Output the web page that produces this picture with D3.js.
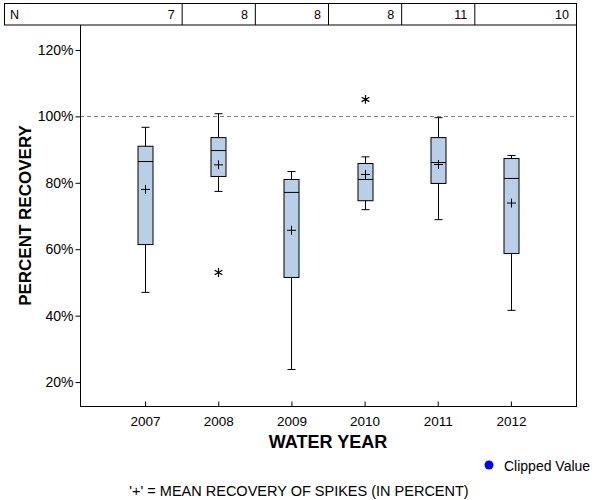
<!DOCTYPE html>
<html><head><meta charset="utf-8">
<script src="https://cdn.jsdelivr.net/npm/d3@7"></script>
<style>body{margin:0;background:#fff;} text{font-family:"Liberation Sans",Arial,sans-serif;}</style>
</head><body><svg id="c" width="600" height="500"></svg>
<script>
const years = ["2007","2008","2009","2010","2011","2012"];
const counts = [7, 8, 8, 8, 11, 10];
const whiskerLow  = [47.0, 77.4, 23.8, 71.9, 68.9, 41.6];
const q1          = [61.4, 81.9, 51.5, 74.6, 79.8, 58.7];
const median      = [86.4, 89.7, 77.1, 81.0, 86.1, 81.3];
const q3          = [91.0, 93.6, 81.0, 85.8, 93.6, 87.3];
const whiskerHigh = [96.7, 100.8, 83.4, 87.8, 99.6, 88.2];
const means       = [78.0, 85.4, 65.7, 82.5, 85.5, 73.9];
const outlierYears = ["2008", "2010"];
const outlierValues = [53.0, 105.1];
const yTicks = [20, 40, 60, 80, 100, 120];
const refLine = 100;

const svg = d3.select("#c");
const L = 80, R = 576, T = 25, B = 406;
const x = d3.scalePoint().domain(years).range([L, R]).padding(0.89);
const y = d3.scaleLinear().domain([12.8, 127.5]).range([B, T]);
const boxW = 15, capW = 8, plusW = 4.5;

// N table
const step = x.step();
const tbl = svg.append("g");
tbl.append("rect").attr("x", 4.5).attr("y", 3.5).attr("width", R - 4).attr("height", 21.5)
  .attr("fill", "none").attr("stroke", "#000");
years.forEach((yr, i) => {
  const right = i === years.length - 1 ? R : x(yr) + step / 2;
  if (i < years.length - 1) tbl.append("line").attr("x1", right + 0.5).attr("x2", right + 0.5)
    .attr("y1", 3.5).attr("y2", 25).attr("stroke", "#000");
  tbl.append("text").attr("x", right - 7).attr("y", 19).attr("text-anchor", "end")
    .attr("font-size", 12.5).text(counts[i]);
});
tbl.append("text").attr("x", 10).attr("y", 19).attr("font-size", 12.5).text("N");

// frame right
svg.append("line").attr("x1", R + 0.5).attr("x2", R + 0.5).attr("y1", T).attr("y2", B).attr("stroke", "#000");

// ref line
svg.append("line").attr("x1", L).attr("x2", R).attr("y1", Math.round(y(refLine)) + 0.5).attr("y2", Math.round(y(refLine)) + 0.5)
  .attr("stroke", "#808080").attr("stroke-dasharray", "4,3");

// axes
const yAxis = svg.append("g").attr("transform", `translate(${L + 0.5},0)`)
  .call(d3.axisLeft(y).tickValues(yTicks).tickSize(5).tickPadding(2).tickFormat(d => d + "%"));
yAxis.select(".domain").attr("d", `M0,${T}V${B + 0.5}`);
yAxis.selectAll("text").attr("font-size", 14).attr("font-family", "Liberation Sans, Arial").attr("fill", "#000");

const xAxis = svg.append("g").attr("transform", `translate(0,${B + 0.5})`)
  .call(d3.axisBottom(x).tickSizeInner(-5).tickSizeOuter(0).tickPadding(10));
xAxis.select(".domain").attr("d", `M${L},0H${R + 1}`);
xAxis.selectAll("text").attr("font-size", 13.5).attr("font-family", "Liberation Sans, Arial").attr("fill", "#000");

// boxes
const g = svg.append("g").attr("stroke", "#000").attr("stroke-width", 1);
years.forEach((yr, i) => {
  const cx = Math.round(x(yr)) + 0.5;
  g.append("line").attr("x1", cx).attr("x2", cx).attr("y1", y(whiskerHigh[i])).attr("y2", y(whiskerLow[i]));
  g.append("line").attr("x1", cx - capW / 2).attr("x2", cx + capW / 2).attr("y1", y(whiskerHigh[i])).attr("y2", y(whiskerHigh[i]));
  g.append("line").attr("x1", cx - capW / 2).attr("x2", cx + capW / 2).attr("y1", y(whiskerLow[i])).attr("y2", y(whiskerLow[i]));
  g.append("rect").attr("x", cx - boxW / 2).attr("width", boxW).attr("y", y(q3[i])).attr("height", y(q1[i]) - y(q3[i]))
    .attr("fill", "#b9cfe7");
  g.append("line").attr("x1", cx - boxW / 2).attr("x2", cx + boxW / 2).attr("y1", y(median[i])).attr("y2", y(median[i]));
  g.append("line").attr("x1", cx - plusW).attr("x2", cx + plusW).attr("y1", y(means[i])).attr("y2", y(means[i]));
  g.append("line").attr("x1", cx).attr("x2", cx).attr("y1", y(means[i]) - plusW).attr("y2", y(means[i]) + plusW);
});
outlierYears.forEach((yr, i) => {
  g.append("path").attr("transform", `translate(${Math.round(x(yr)) + 0.5},${y(outlierValues[i])})`)
    .attr("d", d3.symbol(d3.symbolAsterisk, 55)()).attr("fill", "none").attr("stroke-width", 1.2);
});

// titles
svg.append("text").attr("x", (L + R) / 2).attr("y", 448).attr("text-anchor", "middle")
  .attr("font-size", 18).attr("font-weight", "bold").text("WATER YEAR");
svg.append("text").attr("transform", `translate(31,${(T + B) / 2}) rotate(-90)`).attr("text-anchor", "middle")
  .attr("font-size", 17).attr("font-weight", "bold").text("PERCENT RECOVERY");

// legend
svg.append("circle").attr("cx", 489).attr("cy", 465).attr("r", 4.5).attr("fill", "#0000ff");
svg.append("text").attr("x", 504).attr("y", 471).attr("font-size", 14).text("Clipped Value");

svg.append("text").attr("x", 299).attr("y", 496).attr("text-anchor", "middle").attr("font-size", 14.5)
  .text("'+' = MEAN RECOVERY OF SPIKES (IN PERCENT)");
</script></body></html>
